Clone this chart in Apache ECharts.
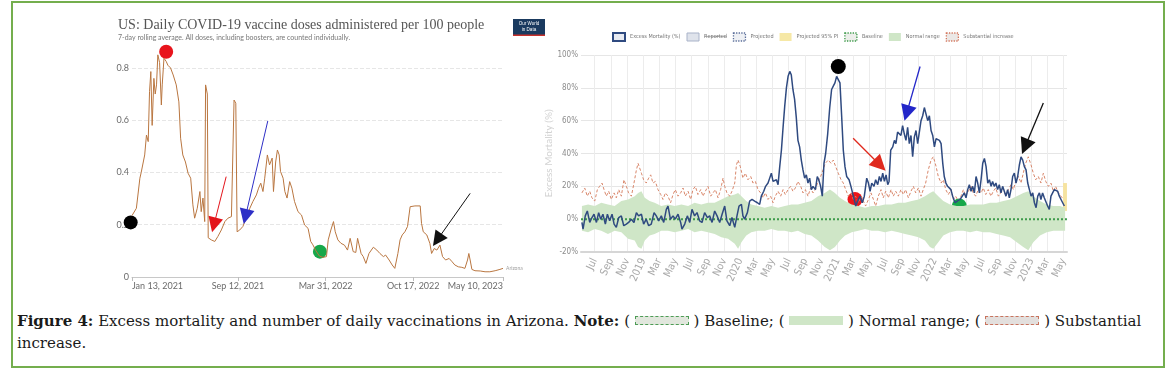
<!DOCTYPE html>
<html>
<head>
<meta charset="utf-8">
<title>Excess mortality and daily vaccinations in Arizona</title>
<script src="https://cdn.jsdelivr.net/npm/echarts@6/dist/echarts.min.js"></script>
<style>
  html, body { margin: 0; padding: 0; background: #fff; }
  #page { position: relative; width: 1170px; height: 376px; overflow: hidden; }
  #frame { position: absolute; left: 11px; top: 1px; width: 1150px; height: 363px; border: 2px solid #74ae4e; }
  #chart { position: absolute; left: 0; top: 0; width: 1170px; height: 300px; }
  #caption { position: absolute; left: 17px; top: 310px; width: 1140px; font-family: "DejaVu Serif", serif; font-size: 15px; line-height: 22px; color: #1a1a1a; }
  .key { display: inline-block; width: 54px; height: 9px; vertical-align: 1px; box-sizing: border-box; }
  .key.base { background: #e1e7dd; border: 1px dashed #4d9c55; }
  .key.norm { background: #cfe6c7; }
  .key.subst { background: #e3dfdd; border: 1px dashed #c8735d; }
</style>
</head>
<body>
<div id="page">
  <div id="chart"></div>
  <div id="caption"><b>Figure 4:</b> Excess mortality and number of daily vaccinations in Arizona. <b>Note:</b> ( <span class="key base"></span> ) Baseline; ( <span class="key norm"></span> ) Normal range; ( <span class="key subst"></span> ) Substantial<br>increase.</div>
  <div id="frame"></div>
</div>
<script>
// ---- left chart: daily vaccine doses per 100 people (x = days since 13 Jan 2021)
const vaxTickDays = [0, 242, 442, 642, 847];
const vaxTickLabels = ['Jan 13, 2021', 'Sep 12, 2021', 'Mar 31, 2022', 'Oct 17, 2022', 'May 10, 2023'];
const vaxDoses = [
  [0,0.235],[10,0.263],[18,0.378],[21,0.40],[29,0.467],[33,0.543],[37,0.518],[40,0.709],[43,0.786],[46,0.58],
  [50,0.76],[53,0.70],[56,0.735],[59,0.85],[63,0.82],[67,0.658],[69,0.735],[73,0.837],[78,0.825],[82,0.81],
  [88,0.80],[94,0.773],[101,0.735],[107,0.67],[111,0.531],[116,0.467],[122,0.44],[128,0.397],[134,0.378],[139,0.276],
  [143,0.225],[149,0.263],[155,0.327],[158,0.25],[162,0.302],[166,0.212],[168,0.735],[172,0.70],[174,0.15],[181,0.142],
  [189,0.136],[196,0.155],[204,0.18],[212,0.212],[219,0.225],[227,0.231],[231,0.237],[233,0.677],[237,0.665],[240,0.173],
  [246,0.18],[253,0.193],[261,0.225],[269,0.263],[276,0.289],[284,0.314],[289,0.34],[294,0.359],[299,0.327],[303,0.378],
  [309,0.467],[314,0.429],[320,0.455],[323,0.327],[328,0.44],[332,0.486],[336,0.467],[339,0.404],[345,0.378],[349,0.327],
  [354,0.302],[360,0.365],[365,0.34],[371,0.289],[379,0.25],[387,0.237],[394,0.199],[402,0.186],[408,0.136],[413,0.123],
  [420,0.10],[428,0.08],[436,0.075],[444,0.078],[448,0.142],[454,0.18],[460,0.212],[464,0.173],[470,0.142],[477,0.129],
  [485,0.122],[492,0.103],[498,0.148],[502,0.148],[505,0.097],[511,0.094],[515,0.148],[519,0.148],[523,0.09],[528,0.078],
  [534,0.052],[541,0.09],[551,0.114],[559,0.103],[566,0.09],[574,0.078],[579,0.084],[587,0.065],[594,0.046],[600,0.033],
  [607,0.09],[612,0.142],[617,0.161],[623,0.173],[629,0.193],[635,0.269],[646,0.272],[658,0.272],[661,0.205],[665,0.173],
  [669,0.177],[673,0.161],[677,0.167],[680,0.129],[684,0.09],[690,0.109],[696,0.103],[703,0.122],[709,0.078],[716,0.065],
  [724,0.071],[731,0.058],[737,0.046],[745,0.039],[753,0.037],[760,0.033],[766,0.065],[769,0.09],[772,0.065],[776,0.029],
  [783,0.024],[795,0.023],[806,0.02],[817,0.02],[829,0.024],[840,0.029],[847,0.033]
];
// circles: black, red, green ; arrows: [fromDay, fromValue, toDay, toValue] red, blue, black
const vaxDots = [[-3, 0.209], [78, 0.862], [429, 0.097]];
const vaxArrows = [[215, 0.384, 187, 0.199], [310, 0.597, 259, 0.231], [772, 0.32, 697, 0.142]];

// ---- right chart: excess mortality (%) (x = weeks since 11 May 2018)
const mortTickDates = ['2018-07','2018-09','2018-11','2019-01','2019-03','2019-05','2019-07','2019-09','2019-11','2020-01',
  '2020-03','2020-05','2020-07','2020-09','2020-11','2021-01','2021-03','2021-05','2021-07','2021-09',
  '2021-11','2022-01','2022-03','2022-05','2022-07','2022-09','2022-11','2023-01','2023-03','2023-05'];
const mortTickLabels = ['Jul','Sep','Nov','2019','Mar','May','Jul','Sep','Nov','2020','Mar','May','Jul','Sep','Nov',
  '2021','Mar','May','Jul','Sep','Nov','2022','Mar','May','Jul','Sep','Nov','2023','Mar','May'];
const excessMortality = [
  [0.5,-2],[1.1,-6],[2.3,2],[3.4,5],[4.7,-2],[5.9,1],[7.0,3],[8.3,-2],[9.5,4],[10.6,0],[11.8,3],[13.1,-3],[14.2,3],
  [15.4,-1],[16.7,3],[17.8,-3],[19.0,-5],[20.3,1],[21.7,2],[23.0,-4],[24.4,-3],[25.6,-2],[27.1,0],[28.5,-2],[29.8,4],
  [31.0,2],[32.5,3],[33.7,-3],[35.1,0],[36.4,-4],[37.8,-3],[39.3,4],[40.5,2],[41.8,-1],[43.2,2],[44.5,-2],[45.9,6],
  [46.8,8],[48.1,0],[49.5,2],[50.7,0],[52.2,3],[53.6,-2],[54.3,-6],[55.8,-3],[57.2,2],[58.5,-2],[59.7,6],[61.1,2],
  [62.4,4],[63.8,-1],[65.1,-2],[66.5,4],[68.0,1],[69.2,2],[70.5,-2],[71.9,5],[73.2,2],[74.6,-2],[75.9,3],[77.3,8],
  [78.5,-1],[80.0,-4],[81.2,1],[82.7,-5],[83.9,2],[85.0,8],[86.3,9],[87.1,2],[88.0,0],[89.5,4],[90.7,11],[92.0,12],
  [93.4,11],[94.9,10],[96.1,9],[97.0,14],[98.3,17],[99.3,20],[100.6,22],[101.5,25],[102.4,28],[103.3,23],[104.2,22],
  [105.1,24],[106.0,21],[106.9,32],[107.8,42],[108.7,56],[109.6,69],[110.5,80],[111.4,87],[112.3,90],[113.1,88],
  [114.0,79],[114.9,73],[115.8,62],[116.7,48],[117.6,44],[118.5,36],[119.4,30],[120.3,25],[121.2,27],[122.1,22],
  [123.0,25],[123.9,18],[124.8,20],[126.1,18],[127.1,26],[127.9,24],[128.9,20],[129.8,14],[130.7,34],[131.6,40],
  [132.7,52],[133.8,68],[134.8,79],[135.7,81],[136.6,83],[137.5,87],[138.4,85],[139.3,83],[140.2,63],[141.1,42],
  [142.0,32],[142.9,26],[144.2,24],[145.2,20],[146.5,14],[147.8,8],[148.8,11],[150.1,14],[151.3,10],[152.4,14],
  [153.7,25],[154.6,22],[155.5,17],[156.4,22],[157.6,20],[158.5,24],[159.6,21],[160.5,26],[161.4,23],[162.3,28],
  [163.2,23],[164.1,27],[165.0,21],[165.7,23],[166.6,42],[167.7,44],[168.6,48],[169.4,46],[170.3,53],[171.2,54],
  [172.1,51],[173.0,57],[173.9,52],[174.8,48],[175.7,56],[176.6,46],[177.5,51],[178.4,38],[179.3,50],[180.2,54],
  [181.1,46],[182.0,53],[182.9,60],[183.8,63],[184.7,68],[185.6,64],[186.5,60],[187.4,63],[188.3,54],[189.2,51],
  [190.1,44],[191.0,49],[191.9,50],[192.8,48],[193.7,46],[194.6,34],[195.4,26],[196.3,22],[197.2,20],[198.1,21],
  [199.0,18],[199.9,14],[201.2,10],[202.4,11],[203.9,12],[205.1,14],[206.2,16],[207.1,13],[208.0,18],[208.9,21],
  [209.8,17],[210.7,20],[211.6,16],[212.5,26],[213.4,22],[214.3,16],[215.2,24],[216.1,34],[217.0,37],[217.9,32],
  [218.8,22],[219.7,24],[220.6,20],[221.4,23],[222.3,20],[223.2,22],[224.1,18],[225.0,21],[225.9,16],[226.8,20],
  [227.7,17],[228.6,14],[229.5,18],[230.4,13],[231.3,18],[232.2,26],[233.1,28],[234.0,22],[234.9,26],[235.8,33],
  [236.7,38],[237.6,36],[238.5,32],[239.4,30],[240.3,22],[241.2,18],[242.1,14],[243.0,16],[243.9,10],[244.8,7],
  [245.7,14],[246.6,16],[247.4,12],[248.3,16],[249.2,13],[250.1,14],[251.0,8],[251.9,6],[252.8,14],[253.7,16],
  [254.6,18],[255.5,19],[256.4,17],[257.3,14],[258.2,12],[259.1,10],[260.0,8]
];
const substantialIncrease = [
  [0.5,16],[2.0,19],[3.4,14],[4.7,17],[5.9,13],[7.4,11],[8.8,18],[10.0,20],[11.3,22],[12.4,18],[13.6,14],[14.9,17],
  [16.3,12],[17.8,16],[19.0,13],[20.3,18],[21.7,14],[23.1,24],[24.4,20],[25.6,16],[27.1,14],[28.5,22],[29.8,30],
  [30.7,34],[31.6,35],[32.5,28],[33.7,24],[35.1,22],[36.4,25],[37.5,27],[38.7,22],[40.0,23],[41.4,18],[42.9,15],
  [44.1,12],[45.4,16],[46.8,14],[48.2,10],[49.5,15],[50.7,18],[52.2,14],[53.6,16],[54.9,19],[56.1,14],[57.6,17],
  [59.0,12],[60.2,18],[61.5,20],[62.9,15],[64.4,18],[65.6,14],[66.9,17],[68.3,20],[69.8,14],[71.0,16],[72.3,18],
  [73.7,13],[75.1,18],[76.4,25],[77.3,20],[78.5,16],[80.0,14],[81.2,17],[82.7,22],[83.6,33],[84.5,36],[85.7,32],
  [87.1,25],[88.4,28],[89.8,24],[91.3,26],[92.5,22],[93.8,23],[95.2,18],[96.6,16],[97.9,13],[99.2,16],[100.6,12],
  [102.0,14],[103.3,10],[104.5,14],[106.0,17],[107.4,14],[108.7,18],[109.9,15],[111.4,18],[112.8,20],[114.0,17],
  [115.3,19],[116.7,23],[118.2,20],[119.4,16],[120.7,18],[122.1,14],[123.5,19],[124.8,16],[126.1,18],[127.5,23],
  [128.9,26],[130.2,30],[131.4,34],[133.0,36],[134.5,34],[135.7,36],[137.0,32],[138.4,28],[139.9,24],[141.1,22],
  [142.4,18],[143.8,14],[145.2,16],[146.5,12],[147.7,14],[149.2,10],[150.6,14],[151.9,11],[153.1,8],[154.6,12],
  [156.0,16],[157.3,12],[158.5,8],[159.9,14],[161.4,18],[162.6,13],[163.9,17],[165.3,13],[166.8,18],[168.0,14],
  [169.3,17],[170.7,14],[172.1,18],[173.4,15],[174.6,18],[176.1,13],[177.5,17],[178.8,20],[180.0,16],[181.5,19],
  [182.9,14],[184.1,18],[185.4,22],[186.8,30],[188.3,36],[189.5,38],[190.8,33],[192.2,26],[193.7,22],[194.9,24],
  [196.2,18],[197.6,15],[199.0,18],[200.3,12],[201.5,14],[203.0,11],[204.4,14],[205.7,18],[206.9,14],[208.4,17],
  [209.8,20],[211.0,16],[212.3,14],[213.7,18],[215.2,16],[216.4,19],[217.7,15],[219.1,18],[220.5,14],[221.8,17],
  [223.1,19],[224.5,14],[225.9,16],[227.2,19],[228.4,14],[229.9,18],[231.3,21],[232.6,18],[233.8,23],[235.3,26],
  [236.7,22],[237.9,28],[239.2,34],[240.6,38],[242.1,33],[243.3,28],[244.6,24],[246.0,26],[247.4,22],[248.7,28],
  [250.0,23],[251.4,20],[252.8,22],[254.1,17],[255.3,20],[256.8,16],[258.2,14],[259.5,12]
];
// normal range: [week, upper, lower]
const normalRange = [
  [0.5,8,-7],[3.8,9,-8],[7.4,8,-6],[10.9,10,-7],[14.5,9,-9],[18.1,8,-7],[21.7,11,-8],[25.3,12,-12],[28.9,14,-13],
  [30.7,16,-17],[32.5,17,-18],[34.3,13,-13],[36.9,11,-10],[39.6,10,-9],[43.2,8,-7],[46.8,9,-7],[50.4,8,-8],[54.0,9,-7],
  [57.6,8,-6],[61.1,10,-8],[64.7,9,-7],[68.3,10,-8],[71.9,10,-9],[75.5,12,-11],[79.1,14,-12],[82.7,15,-15],[84.5,16,-18],
  [86.3,14,-14],[88.9,11,-10],[91.6,9,-8],[95.2,8,-7],[98.8,7,-7],[102.4,8,-6],[106.0,7,-7],[109.6,8,-7],[113.2,9,-8],
  [116.7,9,-7],[120.3,10,-9],[123.9,11,-10],[127.5,14,-13],[131.1,16,-17],[133.9,18,-19],[136.6,16,-17],[139.3,13,-13],
  [142.0,11,-10],[145.6,9,-8],[149.2,8,-7],[152.8,7,-6],[156.4,8,-7],[159.9,8,-7],[163.5,9,-8],[167.1,9,-7],[170.7,10,-8],
  [174.3,10,-9],[177.9,11,-10],[181.5,12,-11],[185.0,14,-13],[187.7,16,-17],[189.5,17,-18],[192.2,14,-14],[194.9,11,-10],
  [198.5,9,-8],[202.1,8,-7],[205.7,8,-7],[209.3,9,-8],[212.8,9,-7],[216.4,9,-8],[220.0,10,-8],[223.6,10,-9],[227.2,11,-10],
  [230.8,12,-11],[234.4,14,-14],[237.9,16,-17],[240.6,17,-19],[243.3,14,-14],[246.9,11,-10],[250.5,9,-8],[254.1,8,-7],
  [257.7,8,-7],[260.4,7,-7]
];
// projected 95% PI: [fromWeek, toWeek, lower, upper]
const projectedPI = [259.3, 261.4, 5, 22];
const baseline = [[0, 0], [261.4, 0]];
// circles: black, red, green ; arrows: blue, red, black
const mortDots = [[138.4, 93], [147.4, 12], [203.5, 8]];
const mortArrows = [[182.4, 93, 175.2, 64.6], [146.4, 49.3, 160.8, 33], [248.7, 70.7, 238.9, 44.2]];

// x positions are plotted in days from each chart's start date
const DAY = 86400000;
const mortStart = Date.UTC(2018, 4, 11);
const mortSpanDays = 1830;
const wk = w => w * 7;
const monthDay = s => (Date.UTC(+s.slice(0, 4), +s.slice(5, 7) - 1, 1) - mortStart) / DAY;
const mortTicks = mortTickDates.map(monthDay);

const nearest = (ticks, labels, v) => {
  let best = 0;
  ticks.forEach((t, i) => { if (Math.abs(t - v) < Math.abs(ticks[best] - v)) best = i; });
  return labels[best];
};

const NARROW = '"Liberation Sans Narrow", "DejaVu Sans Condensed", "Roboto Condensed", "Liberation Sans", sans-serif';
const navy = '#2f4a80';
const bandGreen = '#cfe6c7';

function arrowLines(arrows, toX, colors, size, width) {
  return {
    silent: true,
    symbol: ['none', 'triangle'],
    symbolSize: size,
    label: { show: false },
    emphasis: { disabled: true },
    data: arrows.map((a, i) => [
      { coord: [toX(a[0]), a[1]], lineStyle: { color: colors[i], width: width, type: 'solid' }, itemStyle: { color: colors[i] } },
      { coord: [toX(a[2]), a[3]], itemStyle: { color: colors[i] } }
    ])
  };
}

const strike = s => s.split('').map(c => c + '\u0336').join('');
const same = d => d;

const chart = echarts.init(document.getElementById('chart'));
chart.setOption({
  animation: false,
  textStyle: { fontFamily: 'Lato, "Liberation Sans", sans-serif' },
  title: {
    text: 'US: Daily COVID-19 vaccine doses administered per 100 people',
    subtext: '7-day rolling average. All doses, including boosters, are counted individually.',
    left: 118, top: 18, padding: 0, itemGap: 2,
    textStyle: { fontFamily: '"Liberation Serif", serif', fontSize: 14, fontWeight: 'normal', color: '#555' },
    subtextStyle: { fontFamily: 'Lato, sans-serif', fontSize: 7, color: '#777' }
  },
  legend: {
    left: 612, top: 32, padding: 0,
    icon: 'rect', itemWidth: 12, itemHeight: 8, itemGap: 6,
    selectedMode: false,
    textStyle: { fontFamily: NARROW, fontSize: 5.5, color: '#777' },
    formatter: name => name === 'Reported' ? strike(name) : name,
    data: [
      { name: 'Excess Mortality (%)', itemStyle: { color: '#e8ebf2', borderColor: navy, borderWidth: 2 } },
      { name: 'Reported', itemStyle: { color: '#dfe3eb', borderColor: '#a9b3c9', borderWidth: 1 } },
      { name: 'Projected', itemStyle: { color: '#eef0f4', borderColor: '#5a6d99', borderWidth: 1.3, borderType: 'dotted' } },
      { name: 'Projected 95% PI', itemStyle: { color: '#f6e8a6', borderWidth: 0 } },
      { name: 'Baseline', itemStyle: { color: '#eceeea', borderColor: '#3d9a4a', borderWidth: 1.3, borderType: 'dotted' } },
      { name: 'Normal range', itemStyle: { color: bandGreen, borderWidth: 0 } },
      { name: 'Substantial increase', itemStyle: { color: '#ebe8e6', borderColor: '#d4775e', borderWidth: 1.3, borderType: 'dotted' } }
    ]
  },
  grid: [
    { left: 132, right: 667, top: 47, bottom: 23, outerBoundsMode: 'none' },
    { left: 581, right: 103, top: 55, bottom: 48, outerBoundsMode: 'none' }
  ],
  xAxis: [
    {
      type: 'value', gridIndex: 0, min: 0, max: 847,
      axisLine: { onZero: false, lineStyle: { color: '#c8c8c8' } },
      axisTick: { show: true, length: 4, customValues: vaxTickDays, lineStyle: { color: '#bdbdbd' } },
      axisLabel: {
        customValues: vaxTickDays, color: '#6b6b6b', fontSize: 9, margin: 5,
        alignMinLabel: 'left', alignMaxLabel: 'right',
        formatter: v => nearest(vaxTickDays, vaxTickLabels, v)
      },
      splitLine: { show: false }
    },
    {
      type: 'value', gridIndex: 1, min: 0, max: mortSpanDays,
      axisLine: { onZero: false, lineStyle: { color: '#d6d6d6', width: 2 } },
      axisTick: { show: false, customValues: mortTicks },
      axisLabel: {
        customValues: mortTicks, rotate: 65, fontFamily: NARROW, fontSize: 10.5, color: '#a8a8a8', margin: 7,
        formatter: v => nearest(mortTicks, mortTickLabels, v)
      },
      splitLine: { show: true, lineStyle: { color: '#ececec' } }
    }
  ],
  yAxis: [
    {
      type: 'value', gridIndex: 0, min: 0, max: 0.88, interval: 0.2,
      axisLine: { show: false }, axisTick: { show: false },
      axisLabel: { color: '#6b6b6b', fontSize: 9, margin: 3, showMaxLabel: false },
      splitLine: { showMaxLine: false, lineStyle: { color: '#e6e6e6', type: 'dashed' } }
    },
    {
      type: 'value', gridIndex: 1, min: -20, max: 100, interval: 20,
      name: 'Excess Mortality (%)', nameLocation: 'middle', nameGap: 22,
      nameTextStyle: { color: '#d2d2d2', fontSize: 10, fontFamily: 'Lato, sans-serif' },
      axisLine: { show: false }, axisTick: { show: false },
      axisLabel: { formatter: '{value}%', fontFamily: NARROW, fontSize: 8, color: '#8c8c8c', margin: 3 },
      splitLine: { lineStyle: { color: '#e6e6e6' } }
    }
  ],
  graphic: [
    {
      type: 'group', left: 513, top: 19,
      children: [
        { type: 'rect', shape: { x: 0, y: 0, width: 32, height: 17 }, style: { fill: '#1a3a5f' } },
        { type: 'rect', shape: { x: 0, y: 15.5, width: 32, height: 1.5 }, style: { fill: '#c8302b' } },
        { type: 'text', x: 16, y: 5, style: { text: 'Our World', fill: '#fff', fontSize: 4.5, align: 'center', verticalAlign: 'middle' } },
        { type: 'text', x: 16, y: 10.5, style: { text: 'in Data', fill: '#fff', fontSize: 4.5, align: 'center', verticalAlign: 'middle' } }
      ]
    }
  ],
  series: [
    // left
    {
      name: 'Arizona doses', type: 'line', xAxisIndex: 0, yAxisIndex: 0,
      data: vaxDoses,
      symbol: 'none', lineStyle: { color: '#b97640', width: 1 },
      endLabel: { show: true, formatter: 'Arizona', fontSize: 5, color: '#a0a0a0', distance: 3 },
      markLine: arrowLines(vaxArrows, same, ['#e3141b', '#2e2fc6', '#111111'], 15, 1)
    },
    {
      name: 'vax markers', type: 'scatter', xAxisIndex: 0, yAxisIndex: 0, clip: false, silent: true,
      data: vaxDots,
      symbolSize: 14,
      itemStyle: { color: p => ['#000000', '#e8141c', '#17a84a'][p.dataIndex], opacity: 1 }
    },
    // right: the normal range band is filled from 0 up to the upper bound and from 0 down to the lower bound
    {
      name: 'Normal range', type: 'line', xAxisIndex: 1, yAxisIndex: 1,
      data: normalRange.map(p => [wk(p[0]), p[1]]),
      symbol: 'none', lineStyle: { width: 0, opacity: 0 }, areaStyle: { color: bandGreen, opacity: 1, origin: 'auto' }, silent: true
    },
    {
      name: 'nr-lower', type: 'line', xAxisIndex: 1, yAxisIndex: 1,
      data: normalRange.map(p => [wk(p[0]), p[2]]),
      symbol: 'none', lineStyle: { width: 0, opacity: 0 }, areaStyle: { color: bandGreen, opacity: 1, origin: 'auto' }, silent: true
    },
    {
      name: 'Projected 95% PI', type: 'line', xAxisIndex: 1, yAxisIndex: 1, data: [], symbol: 'none',
      markArea: {
        silent: true, itemStyle: { color: '#f6e3a0' },
        data: [[{ coord: [wk(projectedPI[0]), projectedPI[2]] }, { coord: [wk(projectedPI[1]), projectedPI[3]] }]]
      }
    },
    {
      name: 'Substantial increase', type: 'line', xAxisIndex: 1, yAxisIndex: 1,
      data: substantialIncrease.map(p => [wk(p[0]), p[1]]),
      symbol: 'none', lineStyle: { color: '#d8866a', width: 1, type: [3, 2] }
    },
    {
      name: 'Baseline', type: 'line', xAxisIndex: 1, yAxisIndex: 1,
      data: baseline.map(p => [wk(p[0]), p[1]]),
      symbol: 'none', lineStyle: { color: '#3d9a4a', width: 2, type: 'dotted' }
    },
    { name: 'Reported', type: 'line', xAxisIndex: 1, yAxisIndex: 1, data: [], symbol: 'none' },
    { name: 'Projected', type: 'line', xAxisIndex: 1, yAxisIndex: 1, data: [], symbol: 'none' },
    {
      name: 'Excess Mortality (%)', type: 'line', xAxisIndex: 1, yAxisIndex: 1,
      data: excessMortality.map(p => [wk(p[0]), p[1]]),
      symbol: 'none', lineStyle: { color: navy, width: 1.5 },
      markLine: arrowLines(mortArrows, wk, ['#2326c9', '#e02a1e', '#111111'], 16, 1.3)
    },
    {
      name: 'mort markers', type: 'scatter', xAxisIndex: 1, yAxisIndex: 1, clip: false, silent: true,
      data: mortDots.map(p => [wk(p[0]), p[1]]),
      symbolSize: 15,
      itemStyle: { color: p => ['#000000', '#ec1519', '#17a84a'][p.dataIndex], opacity: 1 }
    }
  ]
});
</script>
</body>
</html>
